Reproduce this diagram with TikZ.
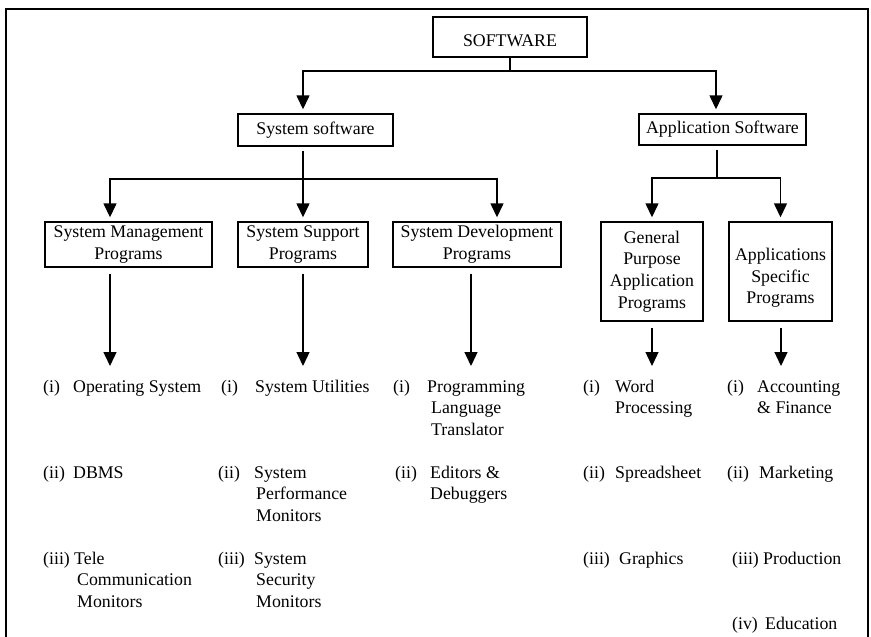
\documentclass[tikz,border=0pt]{standalone}
\usepackage{fontspec}
\setmainfont{Liberation Serif}
\usetikzlibrary{arrows.meta}
% stacked lines whose baseline is the first line
\newcommand\stacklines[1]{\begin{tabular}[t]{@{}l@{}}#1\end{tabular}}
\begin{document}
\begin{tikzpicture}[x=1pt,y=-1pt,
  font=\fontsize{17.8}{21.7}\selectfont,
  box/.style={draw, line width=1.4pt, align=center, inner sep=0pt},
  link/.style={line width=1.4pt},
  arr/.style={link, -{Triangle[length=14pt,width=13pt]}},
  entry/.style={anchor=base west, inner sep=0pt}]
\fill[white] (0,0) rectangle (871,637);
\useasboundingbox (0,0) rectangle (871,637);
% outer frame (open at the bottom)
\draw[line width=1.6pt] (6,645) -- (6,9) -- (868,9) -- (868,645);

% boxes
\node[box, minimum width=154pt, minimum height=40pt] (soft) at (510,37) {};
\node (softtxt) at ([yshift=-4pt]soft.center) {SOFTWARE};
\node[box, minimum width=155pt, minimum height=32pt] (sys) at (315.5,130) {System software};
\node[box, minimum width=167pt, minimum height=31pt] (app) at (722.5,129.5) {Application Software};
\node[box, minimum width=167pt, minimum height=45pt] (smp) at (128.5,244.5) {System Management\\Programs};
\node[box, minimum width=130pt, minimum height=45pt] (ssp) at (303,244.5) {System Support\\Programs};
\node[box, minimum width=168pt, minimum height=45pt] (sdp) at (477,244.5) {System Development\\Programs};
\node[box, minimum width=102pt, minimum height=99pt] (gpa) at (652,271.5) {General\\Purpose\\Application\\Programs};
\node[box, minimum width=103pt, minimum height=99pt] (asp) at (780.5,271.5) {};
\node[align=center] (asptxt) at ([yshift=-6.5pt]asp.center) {Applications\\Specific\\Programs};

% first level
\coordinate (b0) at (510,71);
\draw[link] (soft.south) -- (b0);
\draw[arr, shorten >=4pt] (b0) -| ([xshift=-12.5pt]sys.north);
\draw[arr, shorten >=4pt] (b0) -| ([xshift=-6.5pt]app.north);

% system software branches
\coordinate (b1) at (303,179);
\draw[link] ([xshift=-12.5pt,yshift=-4pt]sys.south) -- (b1);
\draw[arr, shorten >=4pt] (b1) -| ([xshift=-18.5pt]smp.north);
\draw[arr, shorten >=4pt] (b1) -- (ssp.north);
\draw[arr, shorten >=4pt] (b1) -| ([xshift=20pt]sdp.north);

% application software branches
\coordinate (b2) at (717,178);
\draw[link] ([xshift=-5.5pt,yshift=-4pt]app.south) -- (b2);
\draw[arr, shorten >=4pt] (b2) -| (gpa.north);
\draw[arr, shorten >=4pt] (b2) -| (asp.north);

% arrows down to the lists
\coordinate (e1) at (110,366);
\coordinate (e2) at (303,366);
\coordinate (e3) at (471,366);
\coordinate (e4) at (652,366);
\coordinate (e5) at (781,366);
\draw[arr] ([xshift=-18.5pt,yshift=-6pt]smp.south) -- (e1);
\draw[arr] ([yshift=-6pt]ssp.south) -- (e2);
\draw[arr] ([xshift=-6pt,yshift=-6pt]sdp.south) -- (e3);
\draw[arr] ([yshift=-6pt]gpa.south) -- (e4);
\draw[arr] ([xshift=0.5pt,yshift=-6pt]asp.south) -- (e5);

% system management programs
\node[entry] (m1n) at (43,392) {(i)};
\node[entry] (m1) at (73,392) {Operating System};
\node[entry] (m2n) at (43,478) {(ii)};
\node[entry] (m2) at (73,478) {DBMS};
\node[entry] (m3n) at (43,564) {(iii)};
\node[entry] (m3) at (74,564) {\stacklines{Tele\\\hspace{3pt}Communication\\\hspace{3pt}Monitors}};

% system support programs
\node[entry] (s1n) at (221,392) {(i)};
\node[entry] (s1) at (255,392) {System Utilities};
\node[entry] (s2n) at (218,478) {(ii)};
\node[entry] (s2) at (254,478) {\stacklines{System\\\hspace{2pt}Performance\\\hspace{2pt}Monitors}};
\node[entry] (s3n) at (218,564) {(iii)};
\node[entry] (s3) at (254,564) {\stacklines{System\\\hspace{2pt}Security\\\hspace{2pt}Monitors}};

% system development programs
\node[entry] (d1n) at (393,392) {(i)};
\node[entry] (d1) at (427,392) {\stacklines{Programming\\\hspace{4pt}Language\\\hspace{4pt}Translator}};
\node[entry] (d2n) at (395,478) {(ii)};
\node[entry] (d2) at (430,478) {\stacklines{Editors \&\\Debuggers}};

% general purpose application programs
\node[entry] (g1n) at (583,392) {(i)};
\node[entry] (g1) at (615,392) {\stacklines{Word\\Processing}};
\node[entry] (g2n) at (583,478) {(ii)};
\node[entry] (g2) at (615,478) {Spreadsheet};
\node[entry] (g3n) at (583,564) {(iii)};
\node[entry] (g3) at (619,564) {Graphics};

% application specific programs
\node[entry] (a1n) at (727,392) {(i)};
\node[entry] (a1) at (757,392) {\stacklines{Accounting\\\& Finance}};
\node[entry] (a2n) at (727,478) {(ii)};
\node[entry] (a2) at (759,478) {Marketing};
\node[entry] (a3n) at (732,564) {(iii)};
\node[entry] (a3) at (763,564) {Production};
\node[entry] (a4n) at (732,629) {(iv)};
\node[entry] (a4) at (765,629) {Education};
\end{tikzpicture}
\end{document}
